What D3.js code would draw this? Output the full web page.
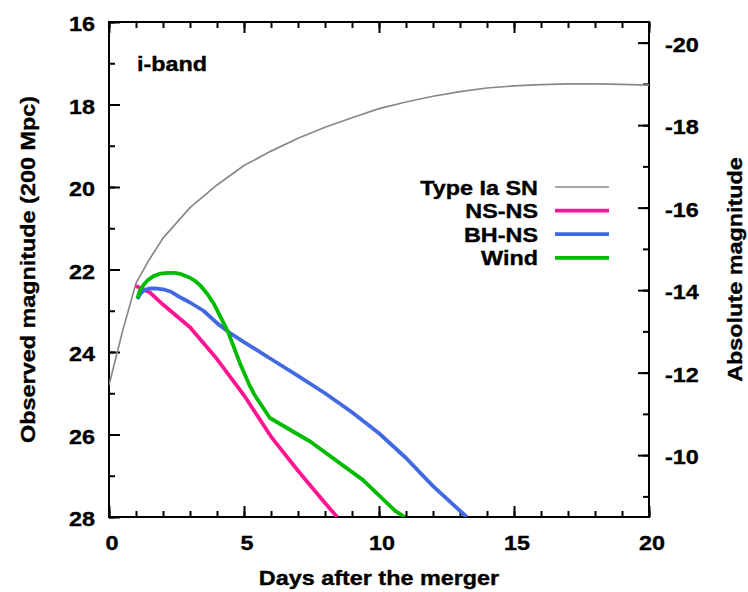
<!DOCTYPE html>
<html>
<head>
<meta charset="utf-8">
<script src="https://cdn.jsdelivr.net/npm/d3@7"></script>
<style>
  body { margin: 0; background: #fff; }
  svg text { font-family: "Liberation Sans", Arial, sans-serif; font-weight: bold; fill: #000; stroke: #000; stroke-width: 0.35px; }
</style>
</head>
<body>
<div id="chart"></div>
<script>
// light curves, i-band, observed magnitude at 200 Mpc
const snDays = [0, 0.5, 1, 1.5, 2, 3, 4, 5, 6, 7, 8, 9, 10, 11, 12, 13, 14, 15, 16, 17, 18, 19, 20];
const snMag  = [24.8, 23.5, 22.33, 21.75, 21.24, 20.5, 19.95, 19.48, 19.13, 18.82, 18.55, 18.32, 18.1, 17.94, 17.8, 17.69, 17.6, 17.55, 17.52, 17.5, 17.5, 17.51, 17.53];

const nsnsDays = [1, 1.5, 2, 3, 4, 5, 6, 7, 8, 8.45];
const nsnsMag  = [22.4, 22.55, 22.85, 23.4, 24.17, 25.05, 26.05, 26.88, 27.66, 28.0];

const bhnsDays = [1.05, 1.15, 1.3, 1.5, 1.7, 2, 2.3, 2.65, 3, 3.5, 4, 4.5, 5, 6, 7, 8, 9, 10, 11, 12, 13.25];
const bhnsMag  = [22.72, 22.6, 22.5, 22.46, 22.46, 22.48, 22.54, 22.68, 22.8, 23.0, 23.3, 23.55, 23.76, 24.17, 24.58, 25.0, 25.46, 25.97, 26.57, 27.25, 28.0];

const windDays = [1.05, 1.15, 1.3, 1.45, 1.65, 1.9, 2.2, 2.45, 2.7, 3, 3.2, 3.4, 3.65, 3.9, 4.4, 4.85, 5.2, 5.4, 5.96, 7.45, 9.4, 10.6, 10.95];
const windMag  = [22.7, 22.5, 22.36, 22.25, 22.16, 22.1, 22.08, 22.08, 22.12, 22.2, 22.28, 22.4, 22.6, 22.85, 23.5, 24.27, 24.8, 25.05, 25.6, 26.17, 27.1, 27.85, 28.0];

const seriesNames  = ["Type Ia SN", "NS-NS", "BH-NS", "Wind"];
const seriesColors = ["#888888", "#ff1493", "#4169e1", "#00bb00"];
const seriesWidths = [1.7, 3.8, 3.8, 3.8];

const xMajor = [0, 5, 10, 15, 20];
const xMinor = d3.range(0, 21, 1);
const yMajor = [16, 18, 20, 22, 24, 26, 28];
const yMinor = d3.range(16, 29, 1);
const absMajor = [-20, -18, -16, -14, -12, -10];
const absMinor = d3.range(-20, -8, 1);
const distMod = 36.5; // 200 Mpc

const W = 748, H = 592;
const pLeft = 109, pRight = 649, pTop = 22, pBottom = 517;
const stretch = 1.17, fs = 20;

const svg = d3.select("#chart").append("svg")
  .attr("width", W).attr("height", H);

const x = d3.scaleLinear().domain([0, 20]).range([pLeft, pRight]);
const y = d3.scaleLinear().domain([16, 28]).range([pTop, pBottom]);
const yAbs = d3.scaleLinear().domain([16 - distMod, 28 - distMod]).range([pTop, pBottom]);

svg.append("clipPath").attr("id", "clip")
  .append("rect").attr("x", pLeft).attr("y", pTop)
  .attr("width", pRight - pLeft).attr("height", pBottom - pTop);

function styleAxis(g) {
  g.select(".domain").remove();
  g.selectAll(".tick line").attr("stroke", "#000").attr("stroke-width", 2);
}

// minor ticks
svg.append("g").attr("transform", `translate(0,${pBottom})`)
  .call(d3.axisBottom(x).tickValues(xMinor).tickSize(-6).tickFormat(""))
  .call(styleAxis);
svg.append("g").attr("transform", `translate(0,${pTop})`)
  .call(d3.axisTop(x).tickValues(xMinor).tickSize(-6).tickFormat(""))
  .call(styleAxis);
svg.append("g").attr("transform", `translate(${pLeft},0)`)
  .call(d3.axisLeft(y).tickValues(yMinor).tickSize(-6).tickFormat(""))
  .call(styleAxis);
svg.append("g").attr("transform", `translate(${pRight},0)`)
  .call(d3.axisRight(yAbs).tickValues(absMinor).tickSize(-6).tickFormat(""))
  .call(styleAxis);

// major ticks with labels
const xAxis = svg.append("g").attr("transform", `translate(0,${pBottom})`)
  .call(d3.axisBottom(x).tickValues(xMajor).tickSize(-11).tickFormat(d3.format("d")))
  .call(styleAxis);
xAxis.selectAll(".tick text")
  .attr("y", 0).attr("dy", 0)
  .attr("transform", `translate(2.5,33) scale(${stretch},1)`)
  .attr("text-anchor", "middle").style("font-size", fs + "px");

svg.append("g").attr("transform", `translate(0,${pTop})`)
  .call(d3.axisTop(x).tickValues(xMajor).tickSize(-11).tickFormat(""))
  .call(styleAxis);

const yAxis = svg.append("g").attr("transform", `translate(${pLeft},0)`)
  .call(d3.axisLeft(y).tickValues(yMajor).tickSize(-11).tickFormat(d3.format("d")))
  .call(styleAxis);
yAxis.selectAll(".tick text")
  .attr("x", 0).attr("dy", 0)
  .attr("transform", `translate(-14,8.5) scale(${stretch},1)`)
  .attr("text-anchor", "end").style("font-size", fs + "px");

const absAxis = svg.append("g").attr("transform", `translate(${pRight},0)`)
  .call(d3.axisRight(yAbs).tickValues(absMajor).tickSize(-11).tickFormat(d3.format("d")))
  .call(styleAxis);
absAxis.selectAll(".tick text")
  .attr("x", 0).attr("dy", 0)
  .text(d => d < 0 ? "-" + Math.abs(d) : d)
  .attr("transform", `translate(16,8.5) scale(${stretch},1)`)
  .attr("text-anchor", "start").style("font-size", fs + "px");

// frame
svg.append("rect")
  .attr("x", pLeft).attr("y", pTop)
  .attr("width", pRight - pLeft).attr("height", pBottom - pTop)
  .attr("fill", "none").attr("stroke", "#000").attr("stroke-width", 2);

// curves
const line = d3.line()
  .x(d => x(d[0]))
  .y(d => y(d[1]));

const allDays = [snDays, nsnsDays, bhnsDays, windDays];
const allMags = [snMag, nsnsMag, bhnsMag, windMag];

const curves = svg.append("g").attr("clip-path", "url(#clip)");
allDays.forEach((days, i) => {
  curves.append("path")
    .datum(days.map((d, j) => [d, allMags[i][j]]))
    .attr("fill", "none")
    .attr("stroke", seriesColors[i])
    .attr("stroke-width", seriesWidths[i])
    .attr("stroke-linejoin", "round")
    .attr("d", line);
});

// free text helper, stretched like the original
function label(txt, tx, ty, anchor, rot) {
  return svg.append("text")
    .attr("transform", `translate(${tx},${ty}) rotate(${rot || 0}) scale(${stretch},1)`)
    .attr("text-anchor", anchor)
    .style("font-size", fs + "px")
    .text(txt);
}

// legend
const legY0 = 187, legStep = 23.6;
seriesNames.forEach((name, i) => {
  const ly = legY0 + i * legStep;
  label(name, 538, ly + 7.5, "end");
  svg.append("line")
    .attr("x1", 555).attr("x2", 609)
    .attr("y1", ly).attr("y2", ly)
    .attr("stroke", seriesColors[i])
    .attr("stroke-width", seriesWidths[i]);
});

label("i-band", 137, 71, "start");
label("Days after the merger", (pLeft + pRight) / 2, 585, "middle");
label("Observed magnitude (200 Mpc)", 35, (pTop + pBottom) / 2, "middle", -90);
label("Absolute magnitude", 742, (pTop + pBottom) / 2, "middle", -90);
</script>
</body>
</html>
